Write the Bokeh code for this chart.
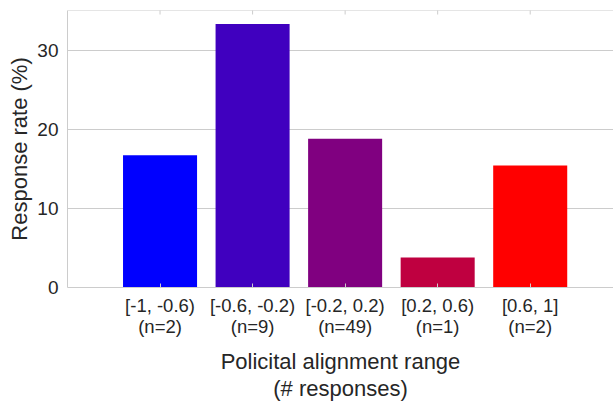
import math
from bokeh.plotting import figure
from bokeh.models import ColumnDataSource, Range1d, FixedTicker, Span
from bokeh.embed import file_html
from bokeh.resources import INLINE

# Data
ranges = ["[-1, -0.6)", "[-0.6, -0.2)", "[-0.2, 0.2)", "[0.2, 0.6)", "[0.6, 1]"]
counts = [2, 9, 49, 1, 2]
rates = [16.7, 33.3, 18.8, 3.8, 15.4]
colors = ["#0000ff", "#4000bf", "#800080", "#bf0040", "#ff0000"]
y_ticks = [0, 10, 20, 30]
y_max = 35

idx = list(range(len(ranges)))
labels = {i: f"{r}\n(n={n})" for i, r, n in zip(idx, ranges, counts)}

FONT = "Liberation Sans"
TXT = "#262626"
EDGE = "#cccccc"

src = ColumnDataSource(dict(x=idx, top=rates, color=colors))

p = figure(width=613, height=404, output_backend="svg", toolbar_location=None,
           x_range=Range1d(-1, 4.9), y_range=Range1d(0, y_max),
           min_border_left=67, min_border_top=10, min_border_right=0, min_border_bottom=117,
           x_axis_label="Policital alignment range\n(# responses)",
           y_axis_label="Response rate (%)")
p.outline_line_color = None
p.background_fill_color = "white"

p.vbar(x="x", top="top", width=0.8, fill_color="color", line_color=None, source=src)

# top spine with small inward ticks
p.add_layout(Span(location=y_max, dimension="width", line_color=EDGE, line_width=1))
p.scatter(x=idx, y=[y_max] * len(idx), marker="dash", angle=math.pi / 2, size=8,
          line_color=EDGE, line_width=1)

p.xgrid.grid_line_color = None
p.ygrid.grid_line_color = EDGE
p.ygrid.grid_line_width = 1

xa = p.xaxis[0]
xa.ticker = FixedTicker(ticks=idx)
xa.major_label_overrides = labels
xa.major_label_text_font = FONT
xa.major_label_text_font_size = "18.5px"
xa.major_label_text_line_height = 1.0
xa.major_label_text_color = TXT
xa.major_label_standoff = 7
xa.axis_label_text_font = FONT
xa.axis_label_text_font_size = "22px"
xa.axis_label_text_line_height = 1.1
xa.axis_label_text_font_style = "normal"
xa.axis_label_text_color = TXT
xa.axis_label_standoff = 9
xa.axis_line_color = EDGE
xa.major_tick_in = 4
xa.major_tick_out = 0
xa.major_tick_line_color = EDGE
xa.minor_tick_line_color = None

ya = p.yaxis[0]
ya.ticker = FixedTicker(ticks=y_ticks)
ya.major_label_text_font = FONT
ya.major_label_text_font_size = "19px"
ya.major_label_text_color = TXT
ya.major_label_standoff = 9
ya.axis_label_text_font = FONT
ya.axis_label_text_font_size = "22px"
ya.axis_label_text_font_style = "normal"
ya.axis_label_text_color = TXT
ya.axis_label_standoff = 2
ya.axis_line_color = EDGE
ya.major_tick_in = 0
ya.major_tick_out = 0
ya.minor_tick_line_color = None

open("out.html", "w").write(file_html(p, INLINE))
